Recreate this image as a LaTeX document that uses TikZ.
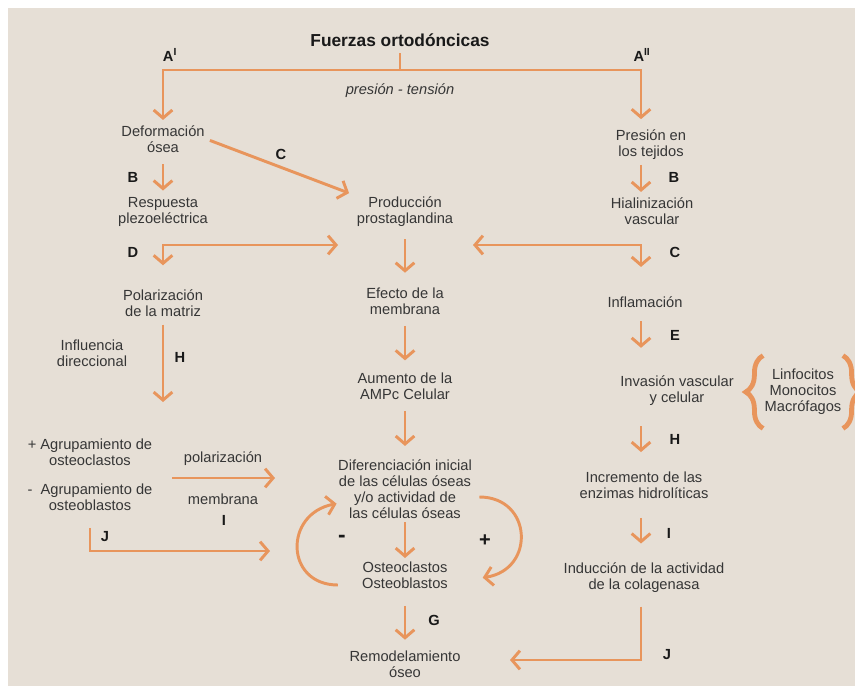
\documentclass[tikz,border=0pt]{standalone}
\usepackage{fontspec}
\setmainfont{Liberation Sans}
\usepackage{tikz}
\usetikzlibrary{arrows.meta,decorations.pathreplacing}
\definecolor{fondo}{HTML}{E6DFD6}
\definecolor{naranja}{HTML}{E8955C}
\definecolor{texto}{HTML}{363636}
\tikzset{
	txt/.style={align=center, text=texto, inner sep=1pt, font=\fontsize{11}{12}\selectfont},
	lbl/.style={inner sep=1pt, text=black!90, font=\bfseries\fontsize{11}{12}\selectfont},
	linea/.style={draw=naranja, line width=2.2pt},
	flecha/.style={linea, -{Straight Barb[length=6pt,width=14pt]}},
	doble/.style={linea, {Straight Barb[length=6pt,width=14pt]}-{Straight Barb[length=6pt,width=14pt]}},
}

\begin{document}
\begin{tikzpicture}[x=0.75pt, y=-0.75pt]
		%%%%% START %%%%%
		
		\useasboundingbox (0, 0) rectangle (855, 686);
		\fill[white] (0, 0) rectangle (855, 686);
		\fill[fondo] (8, 8) rectangle (855, 686);
		
		\node[txt, text=black!90, font=\bfseries\fontsize{13}{15}\selectfont] (titulo) at (400, 40) {Fuerzas ortodóncicas};
		\node[lbl] (aI) at (170, 55) {A\textsuperscript{I}};
		\node[lbl] (aII) at (642, 55) {A\textsuperscript{II}};
		\node[txt, font=\itshape\fontsize{11}{12}\selectfont] (prten) at (400, 91) {presión - tensión};
		\coordinate (fork) at (400, 70);
		\coordinate (rcol) at (641, 70);
		
		\node[txt] (def) at (163, 139) {Deformación\\ósea};
		\node[txt] (resp) at (163, 212) {Respuesta\\plezoeléctrica};
		\node[txt] (pol) at (163, 303) {Polarización\\de la matriz};
		\node[txt] (influ) at (92, 353) {Influencia\\direccional};
		\node[txt] (osc) at (90, 452) {+ Agrupamiento de\\osteoclastos};
		\node[txt] (osb) at (90, 497) {-\ \ Agrupamiento de\\osteoblastos};
		
		\node[txt] (prod) at (405, 212) {Producción\\prostaglandina};
		\node[txt] (efec) at (405, 301) {Efecto de la\\membrana};
		\node[txt] (aum) at (405, 386) {Aumento de la\\AMPc Celular};
		\node[txt] (dif) at (405, 489) {Diferenciación inicial\\de las células óseas\\y/o actividad de\\las células óseas};
		\node[txt] (ost) at (405, 575) {Osteoclastos\\Osteoblastos};
		\node[txt] (remo) at (405, 664) {Remodelamiento\\óseo};
		
		\node[txt] (pres) at (651, 145) {Presión en\\los tejidos};
		\node[txt] (hial) at (652, 211) {Hialinización\\vascular};
		\node[txt] (infl) at (645, 302) {Inflamación};
		\node[txt] (inv) at (677, 391) {Invasión vascular\\y celular};
		\node[txt] (linf) at (803, 392) {Linfocitos\\Monocitos\\Macrófagos};
		\node[txt] (incr) at (644, 485) {Incremento de las\\enzimas hidrolíticas};
		\node[txt] (induc) at (644, 578) {Inducción de la actividad\\de la colagenasa};
		
		\node[lbl] (lC1) at (281, 154) {C};
		\node[lbl] (lB1) at (133, 177) {B};
		\node[lbl] (lD) at (133, 252) {D};
		\node[lbl] (lH1) at (180, 357) {H};
		\node[lbl] (lI1) at (224, 520) {I};
		\node[lbl] (lJ1) at (105, 537) {J};
		\node[lbl] (lG) at (434, 620) {G};
		\node[lbl] (lB2) at (674, 177) {B};
		\node[lbl] (lC2) at (675, 252) {C};
		\node[lbl] (lE) at (675, 335) {E};
		\node[lbl] (lH2) at (675, 439) {H};
		\node[lbl] (lI2) at (669, 533) {I};
		\node[lbl] (lJ2) at (667, 655) {J};
		\node[lbl, font=\bfseries\fontsize{17}{18}\selectfont] (menos) at (342, 539) {-};
		\node[lbl, font=\bfseries\fontsize{15}{16}\selectfont] (mas) at (485, 541) {+};
		\node[txt] (lpol) at (223, 459) {polarización};
		\node[txt] (lmem) at (223, 499) {membrana};
		
		% bifurcacion superior
		\draw[linea, shorten <=4pt] (titulo) -- (fork);
		\draw[flecha, shorten >=3pt] (fork) -| (def);
		\draw[flecha, shorten >=7pt] (fork) -| (pres.north -| rcol);
		
		% columna izquierda
		\draw[flecha, shorten <=7.5pt, shorten >=4pt] (def) -- (resp);
		\draw[flecha, shorten <=3pt, shorten >=5pt] (def.east) -- (prod.north west);
		\coordinate (dcorner) at (163, 245);
		\coordinate (dtip) at (338, 245);
		\draw[doble, shorten >=17pt] (dtip) -- (dcorner) -- (pol);
		\coordinate (htip) at (163, 402);
		\draw[flecha, shorten <=5pt] (pol.south) -- (htip);
		\coordinate (pa) at (172, 478);
		\coordinate (pb) at (275, 478);
		\draw[flecha] (pa) -- (pb);
		\coordinate (jtip) at (270, 551);
		\draw[flecha, shorten <=12pt] (osb.south) |- (jtip);
		
		% columna central
		\draw[flecha, shorten <=8pt, shorten >=10pt] (prod) -- (efec);
		\draw[flecha, shorten <=7.5pt, shorten >=8pt] (efec) -- (aum);
		\draw[flecha, shorten <=7.5pt, shorten >=9pt] (aum) -- (dif);
		\draw[flecha, shorten <=1.5pt, shorten >=1.5pt] (dif) -- (ost);
		\draw[flecha, shorten <=12pt, shorten >=7pt] (ost) -- (remo);
		\draw[flecha] ([xshift=-17pt, yshift=-7.5pt]ost.west) .. controls +(-53, 0) and +(-53, 10) .. ([yshift=-11pt]dif.west);
		\draw[flecha] ([xshift=4.5pt, yshift=-6pt]dif.east) .. controls +(53, 0) and +(53, -8) .. ([xshift=25pt, yshift=-2pt]ost.east);
		
		% columna derecha
		\draw[flecha, shorten <=2.5pt, shorten >=3pt] (pres.south -| rcol) -- (hial.north -| rcol);
		\coordinate (ccorner) at (641, 245);
		\coordinate (ctip) at (473, 245);
		\draw[doble, shorten >=21pt] (ctip) -- (ccorner) -- (infl.north -| rcol);
		\draw[flecha, shorten <=9pt, shorten >=20pt] (infl.south -| rcol) -- (inv.north -| rcol);
		\draw[flecha, shorten <=14pt, shorten >=13.5pt] (inv.south -| rcol) -- (incr.north -| rcol);
		\draw[flecha, shorten <=13.5pt, shorten >=13.5pt] (incr.south -| rcol) -- (induc.north -| rcol);
		\coordinate (jrtip) at (510, 660);
		\draw[flecha, shorten <=9pt] (induc.south -| rcol) |- (jrtip);
		
		\draw[linea, line width=3.6pt, decorate, decoration={brace, amplitude=13pt}] ([yshift=-9pt]linf.south west) -- ([yshift=9pt]linf.north west);
		\draw[linea, line width=3.6pt, decorate, decoration={brace, amplitude=13pt}] ([yshift=9pt]linf.north east) -- ([yshift=-9pt]linf.south east);
		
		%%%%% END %%%%%
\end{tikzpicture}
\end{document}
